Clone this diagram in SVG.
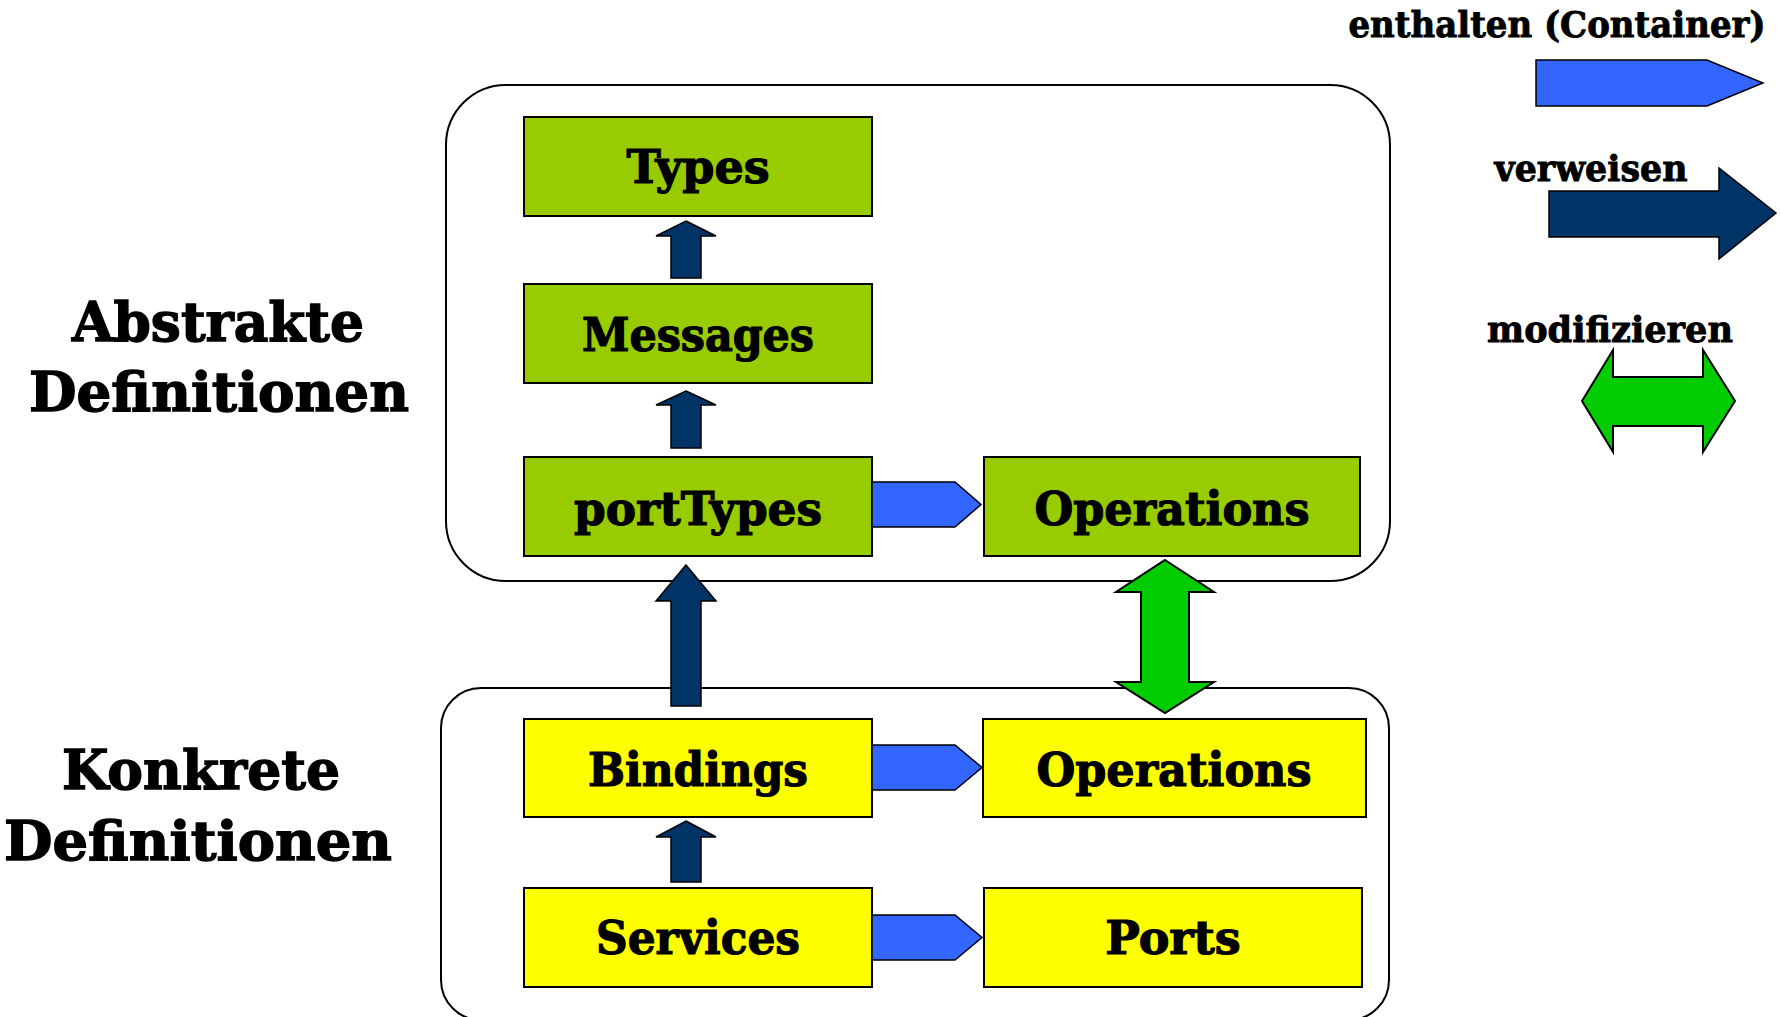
<svg xmlns="http://www.w3.org/2000/svg" width="1781" height="1017" viewBox="0 0 1781 1017">
  <style>
    .lbl { font-family: "DejaVu Serif", "Liberation Serif", serif; font-weight: bold; fill: #000; stroke: #000; text-anchor: middle; }
    .box { font-size: 46px; stroke-width: 1.2; }
    .side { font-size: 55px; stroke-width: 1.4; }
    .leg { font-size: 35px; stroke-width: 0.9; }
    .cont { fill: none; stroke: #000; stroke-width: 2; }
    .abs { fill: #99CC00; stroke: #000; stroke-width: 2; }
    .con { fill: #FFFF00; stroke: #000; stroke-width: 2; }
    .contain { fill: #3366FF; stroke: #000; stroke-width: 1.5; }
    .ref { fill: #003366; stroke: #000; stroke-width: 1.5; }
    .mod { fill: #00CC00; stroke: #000; stroke-width: 2; }
  </style>
  <rect width="1781" height="1017" fill="#fff"/>

  <!-- section labels -->
  <g id="label-abstract">
    <text class="lbl side" x="218" y="341" textLength="292" lengthAdjust="spacingAndGlyphs">Abstrakte</text>
    <text class="lbl side" x="219" y="411" textLength="380" lengthAdjust="spacingAndGlyphs">Definitionen</text>
  </g>
  <g id="label-concrete">
    <text class="lbl side" x="201" y="789" textLength="278" lengthAdjust="spacingAndGlyphs">Konkrete</text>
    <text class="lbl side" x="198" y="860" textLength="388" lengthAdjust="spacingAndGlyphs">Definitionen</text>
  </g>

  <!-- containers -->
  <g id="abstract-container">
    <rect class="cont" x="446" y="85" width="944" height="496" rx="60" ry="60"/>
  </g>
  <g id="concrete-container">
    <rect class="cont" x="441" y="688" width="948" height="332" rx="40" ry="40"/>
  </g>

  <!-- abstract nodes -->
  <g id="types">
    <rect class="abs" x="524" y="117" width="348" height="99"/>
    <text class="lbl box" x="698" y="183">Types</text>
  </g>
  <g id="messages">
    <rect class="abs" x="524" y="284" width="348" height="99"/>
    <text class="lbl box" x="698" y="351" textLength="232" lengthAdjust="spacingAndGlyphs">Messages</text>
  </g>
  <g id="porttypes">
    <rect class="abs" x="524" y="457" width="348" height="99"/>
    <text class="lbl box" x="698" y="525" textLength="248" lengthAdjust="spacingAndGlyphs">portTypes</text>
  </g>
  <g id="operations-abstract">
    <rect class="abs" x="984" y="457" width="376" height="99"/>
    <text class="lbl box" x="1172" y="525" textLength="275" lengthAdjust="spacingAndGlyphs">Operations</text>
  </g>

  <!-- concrete nodes -->
  <g id="bindings">
    <rect class="con" x="524" y="719" width="348" height="98"/>
    <text class="lbl box" x="698" y="786" textLength="220" lengthAdjust="spacingAndGlyphs">Bindings</text>
  </g>
  <g id="operations-concrete">
    <rect class="con" x="983" y="719" width="383" height="98"/>
    <text class="lbl box" x="1174" y="786" textLength="275" lengthAdjust="spacingAndGlyphs">Operations</text>
  </g>
  <g id="services">
    <rect class="con" x="524" y="888" width="348" height="99"/>
    <text class="lbl box" x="698" y="954" textLength="204" lengthAdjust="spacingAndGlyphs">Services</text>
  </g>
  <g id="ports">
    <rect class="con" x="984" y="888" width="378" height="99"/>
    <text class="lbl box" x="1173" y="954">Ports</text>
  </g>

  <!-- connectors -->
  <g id="connectors">
    <!-- references (navy block arrows pointing up) -->
    <polygon class="ref" points="686,221 716,236 701,236 701,278 671,278 671,236 656,236"/>
    <polygon class="ref" points="686,391 716,405 701,405 701,448 671,448 671,405 656,405"/>
    <polygon class="ref" points="686,565 716,601 701,601 701,706 671,706 671,601 656,601"/>
    <polygon class="ref" points="686,821 716,837 701,837 701,882 671,882 671,837 656,837"/>
    <!-- containment (blue chevrons) -->
    <polygon class="contain" points="872,482 955,482 981,504.5 955,527 872,527"/>
    <polygon class="contain" points="872,745 955,745 982,767.5 955,790 872,790"/>
    <polygon class="contain" points="872,915 955,915 982,937.5 955,960 872,960"/>
    <!-- modification (green double arrow) -->
    <polygon class="mod" points="1165,560 1214,592 1189,592 1189,682 1214,682 1165,713 1116,682 1141,682 1141,592 1116,592"/>
  </g>

  <!-- legend -->
  <g id="legend-contain">
    <text class="lbl leg" x="1557" y="37" textLength="417" lengthAdjust="spacingAndGlyphs">enthalten (Container)</text>
    <polygon class="contain" points="1536,60 1707,60 1763,83 1707,106 1536,106"/>
  </g>
  <g id="legend-reference">
    <text class="lbl leg" x="1591" y="181" textLength="193" lengthAdjust="spacingAndGlyphs">verweisen</text>
    <polygon class="ref" points="1549,191 1719,191 1719,168 1776,213 1719,259 1719,237 1549,237"/>
  </g>
  <g id="legend-modify">
    <text class="lbl leg" x="1610" y="342" textLength="246" lengthAdjust="spacingAndGlyphs">modifizieren</text>
    <polygon class="mod" points="1582,401 1613,350 1613,377 1703,377 1703,350 1735,401 1703,452 1703,426 1613,426 1613,452"/>
  </g>
</svg>
